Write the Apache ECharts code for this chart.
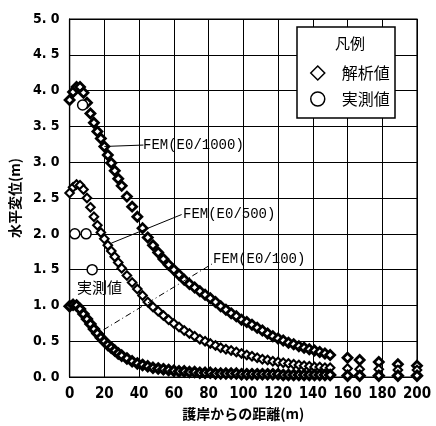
<!DOCTYPE html>
<html>
<head>
<meta charset="utf-8">
<script src="https://cdn.jsdelivr.net/npm/echarts@6/dist/echarts.min.js"></script>
<style>
  html, body { margin: 0; padding: 0; background: #fff; }
  #main { width: 436px; height: 426px; }
</style>
</head>
<body>
<div id="main"></div>
<script>
// distance from the revetment (m), shared by the three FEM series
var distance = [0, 2, 4, 6, 8, 10, 12, 14, 16, 18, 20, 22, 24, 26, 28, 30, 33, 36, 39, 42, 45, 48, 51, 54, 57, 60,
  63, 66, 69, 72, 75, 78, 81, 84, 87, 90, 93, 96, 99, 102, 105, 108, 111, 114, 117, 120, 123, 126, 129, 132,
  135, 138, 141, 144, 147, 150, 160, 167, 178, 189, 200];

var fem1000 = [3.87, 3.98, 4.05, 4.05, 3.97, 3.83, 3.68, 3.55, 3.43, 3.33, 3.22, 3.10, 2.99, 2.88, 2.77, 2.67, 2.52, 2.38, 2.24, 2.08, 1.95, 1.84, 1.74, 1.65, 1.57, 1.50,
  1.43, 1.36, 1.30, 1.25, 1.20, 1.15, 1.10, 1.05, 0.99, 0.94, 0.89, 0.85, 0.80, 0.77, 0.73, 0.69, 0.65, 0.61, 0.57, 0.54, 0.51, 0.48, 0.46, 0.43,
  0.41, 0.39, 0.37, 0.35, 0.33, 0.31, 0.27, 0.24, 0.21, 0.18, 0.16];

var fem500 = [2.57, 2.65, 2.69, 2.68, 2.62, 2.50, 2.37, 2.24, 2.12, 2.02, 1.93, 1.84, 1.76, 1.68, 1.60, 1.52, 1.42, 1.32, 1.23, 1.14, 1.05, 0.98, 0.92, 0.86, 0.80, 0.75,
  0.70, 0.65, 0.61, 0.57, 0.53, 0.50, 0.47, 0.44, 0.41, 0.39, 0.37, 0.35, 0.33, 0.31, 0.29, 0.27, 0.25, 0.24, 0.22, 0.21, 0.20, 0.19, 0.18, 0.17,
  0.16, 0.15, 0.14, 0.14, 0.13, 0.13, 0.12, 0.11, 0.11, 0.10, 0.10];

var fem100 = [0.99, 1.01, 1.00, 0.95, 0.88, 0.81, 0.74, 0.67, 0.61, 0.55, 0.50, 0.45, 0.41, 0.37, 0.33, 0.30, 0.26, 0.22, 0.19, 0.17, 0.15, 0.13, 0.12, 0.11, 0.10, 0.09,
  0.08, 0.08, 0.07, 0.07, 0.06, 0.06, 0.06, 0.05, 0.05, 0.05, 0.05, 0.05, 0.04, 0.04, 0.04, 0.04, 0.04, 0.04, 0.04, 0.04, 0.03, 0.03, 0.03, 0.03,
  0.03, 0.03, 0.03, 0.03, 0.03, 0.03, 0.02, 0.02, 0.02, 0.02, 0.02];

// measured values (実測値)
var measX = [7.5, 3, 9.5, 13];
var measY = [3.80, 2.00, 2.00, 1.50];

var xTicks = [0, 20, 40, 60, 80, 100, 120, 140, 160, 180, 200];
var yTicks = [0, 0.5, 1, 1.5, 2, 2.5, 3, 3.5, 4, 4.5, 5];

var tickFont = "'Liberation Sans Narrow', 'DejaVu Sans Condensed', 'DejaVu Sans', sans-serif";
var cjkFont = "'Noto Sans CJK JP', sans-serif";
var monoFont = "'Liberation Mono', 'DejaVu Sans Mono', monospace";

function pairs(xs, ys) {
  var out = [];
  for (var i = 0; i < xs.length; i++) out.push([xs[i], ys[i]]);
  return out;
}

var myChart = echarts.init(document.getElementById('main'));

function femSeries(values, size, bw) {
  return {
    name: '解析値',
    type: 'scatter',
    symbol: 'diamond',
    symbolSize: size,
    clip: false,
    itemStyle: { color: '#fff', borderColor: '#000', borderWidth: bw, opacity: 1 },
    data: pairs(distance, values)
  };
}

var s1000 = femSeries(fem1000, 9, 2.8);
var s500 = femSeries(fem500, 8.5, 2.1);
var s100 = femSeries(fem100, 9, 3.2);

// leader lines for the annotations, placed in data coordinates
s1000.markLine = {
  silent: true, symbol: 'none', animation: false,
  lineStyle: { color: '#000', width: 1, type: 'solid' },
  label: { show: false },
  data: [[{ coord: [20, 3.22] }, { coord: [42.5, 3.24] }]]
};
s500.markLine = {
  silent: true, symbol: 'none', animation: false,
  lineStyle: { color: '#000', width: 1, type: 'solid' },
  label: { show: false },
  data: [[{ coord: [24, 1.87] }, { coord: [64.5, 2.27] }]]
};
s100.markLine = {
  silent: true, symbol: 'none', animation: false,
  lineStyle: { color: '#000', width: 1, type: [6, 3, 1, 3] },
  label: { show: false },
  data: [[{ coord: [19.5, 0.66] }, { coord: [82, 1.58] }]]
};

myChart.setOption({
  animation: false,
  backgroundColor: '#fff',
  grid: { left: 68, right: 19, top: 19, bottom: 46, show: true, borderColor: '#000', borderWidth: 1.2 },
  xAxis: {
    type: 'value',
    min: 0, max: 200, interval: 20,
    name: '護岸からの距離(m)',
    nameLocation: 'middle',
    nameGap: 25,
    nameTextStyle: { fontFamily: cjkFont, fontSize: 14, fontWeight: 'bold', color: '#000' },
    axisLine: { lineStyle: { color: '#000', width: 1.2 } },
    axisTick: { show: false },
    axisLabel: {
      color: '#000', fontFamily: tickFont, fontWeight: 'bold', fontSize: 15, margin: 10,
      customValues: xTicks
    },
    splitLine: { show: true, lineStyle: { color: '#000', width: 1 } }
  },
  yAxis: {
    type: 'value',
    min: 0, max: 5, interval: 0.5,
    name: '水平変位(m)',
    nameLocation: 'middle',
    nameGap: 47,
    nameRotate: 90,
    nameTextStyle: { fontFamily: cjkFont, fontSize: 14, fontWeight: 'bold', color: '#000' },
    axisLine: { show: true, lineStyle: { color: '#000', width: 1.2 } },
    axisTick: { show: false },
    axisLabel: {
      color: '#000', fontFamily: tickFont, fontWeight: 'bold', fontSize: 14, margin: 10,
      customValues: yTicks,
      formatter: function (v) { return v.toFixed(1).replace('.', '. '); }
    },
    splitLine: { show: true, lineStyle: { color: '#000', width: 1 } }
  },
  legend: {
    orient: 'vertical',
    left: 305, top: 60,
    z: 20,
    itemWidth: 14, itemHeight: 14,
    itemGap: 10,
    selectedMode: false,
    data: [
      { name: '解析値', icon: 'diamond' },
      { name: '実測値', icon: 'circle' }
    ],
    itemStyle: { color: '#fff', borderColor: '#000', borderWidth: 1.5 },
    textStyle: { fontFamily: cjkFont, fontSize: 16, color: '#000', padding: [0, 0, 0, 12] }
  },
  graphic: [
    { type: 'rect', z: 10, shape: { x: 297, y: 27, width: 98, height: 91 },
      style: { fill: '#fff', stroke: '#000', lineWidth: 1.5 } },
    { type: 'text', z: 11, left: 335, top: 36,
      style: { text: '凡例', font: '15px ' + cjkFont, fill: '#000' } },
    { type: 'text', z: 11, left: 143, top: 138,
      style: { text: 'FEM(E0/1000)', font: '14px ' + monoFont, fill: '#000' } },
    { type: 'text', z: 11, left: 183, top: 207,
      style: { text: 'FEM(E0/500)', font: '14px ' + monoFont, fill: '#000' } },
    { type: 'text', z: 11, left: 213, top: 252,
      style: { text: 'FEM(E0/100)', font: '14px ' + monoFont, fill: '#000' } },
    { type: 'text', z: 11, left: 77, top: 280,
      style: { text: '実測値', font: '15px ' + cjkFont, fill: '#000' } }
  ],
  series: [
    s1000,
    s500,
    s100,
    {
      name: '実測値',
      type: 'scatter',
      symbol: 'circle',
      symbolSize: 10,
      clip: false,
      z: 5,
      itemStyle: { color: '#fff', borderColor: '#000', borderWidth: 1.5, opacity: 1 },
      data: pairs(measX, measY)
    }
  ]
});
</script>
</body>
</html>
